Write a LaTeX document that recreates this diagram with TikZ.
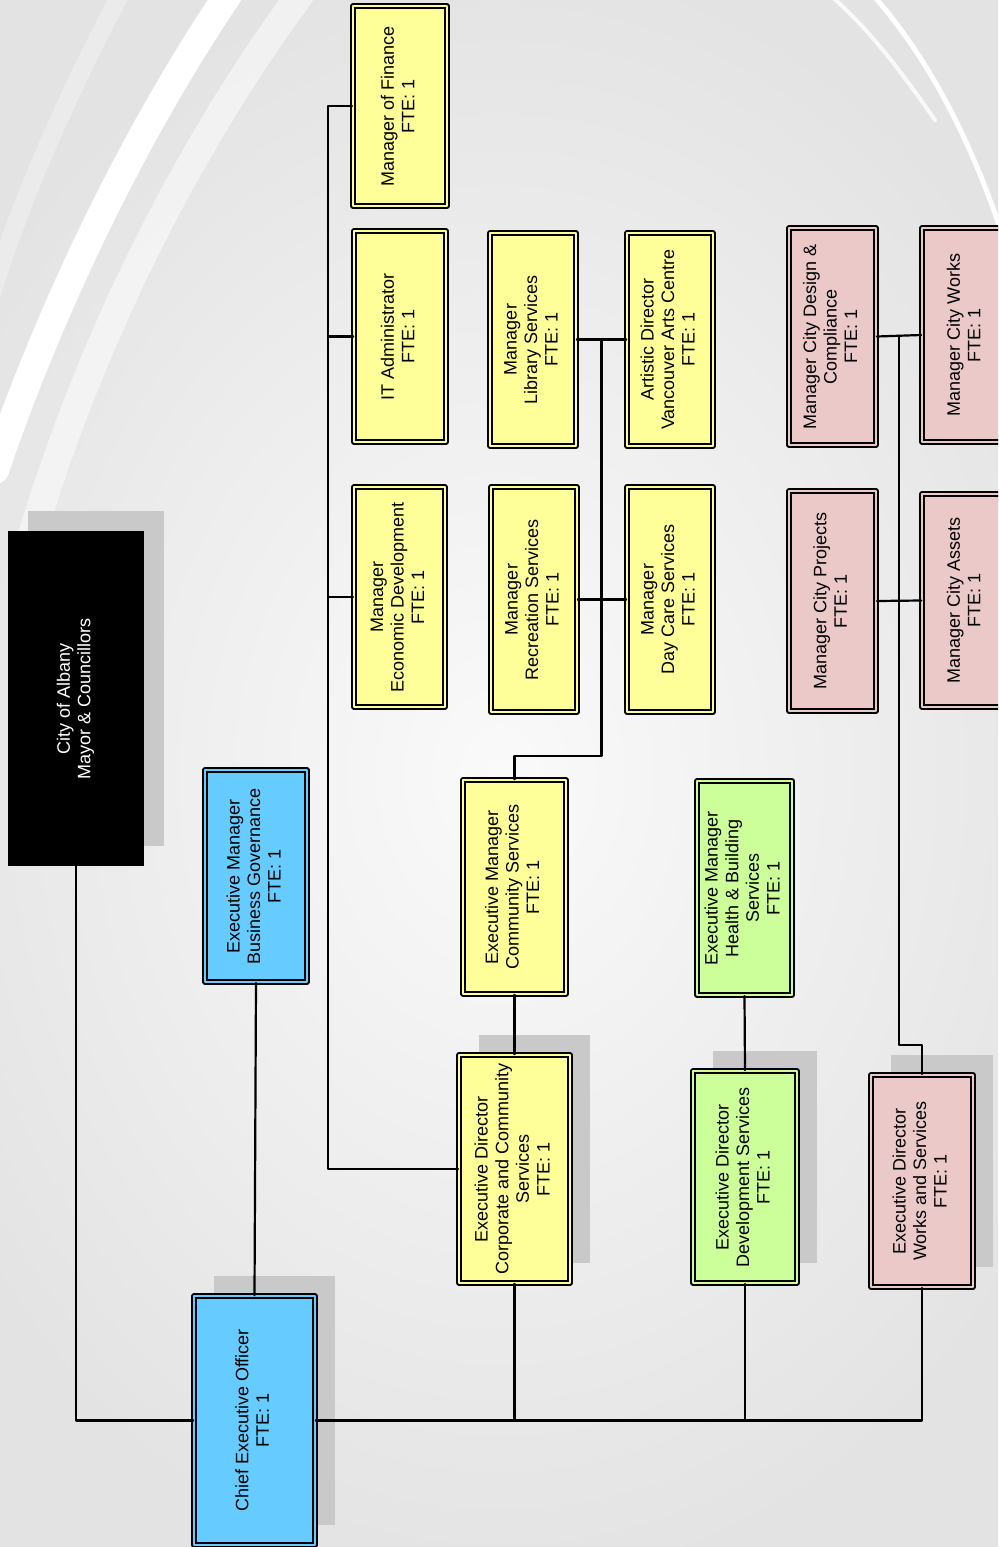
\documentclass[tikz,border=0pt]{standalone}
\usepackage{fontspec}
\setmainfont{Liberation Sans}
\usepackage{tikz}
\usetikzlibrary{calc}
\usetikzlibrary{shadows}
\definecolor{wwccff}{rgb}{0.4,0.8,1.}
\definecolor{ffffww}{rgb}{1.,1.,0.6}
\definecolor{ccffww}{rgb}{0.8,1.,0.6}
\definecolor{eecccc}{rgb}{0.92,0.79,0.79}
\definecolor{shadgray}{rgb}{0.79,0.79,0.79}
\newcommand{\rlab}[1]{\rotatebox{90}{\begin{tabular}{@{}c@{}}#1\end{tabular}}}
\tikzstyle{every node}=[font=\fontsize{9}{10.3}\selectfont]
\tikzstyle{post}=[draw=black,line width=0.85pt,double distance=1.1pt,inner sep=0pt]
\tikzstyle{bpost}=[post,fill=wwccff,double=wwccff]
\tikzstyle{ypost}=[post,fill=ffffww,double=ffffww]
\tikzstyle{gpost}=[post,fill=ccffww,double=ccffww]
\tikzstyle{ppost}=[post,fill=eecccc,double=eecccc]
\tikzstyle{shad}=[drop shadow={shadow xshift=10pt,shadow yshift=10pt,fill=shadgray,opacity=1}]
\tikzstyle{wire}=[line width=1.1pt]

\begin{document}
\begin{tikzpicture}[line cap=round,line join=round,x=0.5pt,y=-0.5pt]
\useasboundingbox (0,0) rectangle (998,1547);
\clip (0,0) rectangle (998,1547);
% background
\shade[inner color=black!2,outer color=black!11] (-150,-50) rectangle (1150,1600);
\draw[white,line width=14pt] (228,-5) .. controls (150,110) and (60,280) .. (-5,470);
\draw[white,opacity=0.5,line width=14pt] (300,-5) .. controls (200,130) and (90,330) .. (25,560);
\draw[white,opacity=0.3,line width=9pt] (120,-5) .. controls (70,90) and (20,200) .. (-10,300);
\draw[white,opacity=0.8,line width=2pt] (830,-5) .. controls (870,30) and (900,70) .. (935,120);
\draw[white,line width=2.5pt] (873,-5) .. controls (930,60) and (970,140) .. (1000,228);

% posts
\node[fill=black,shad,minimum width=68pt,minimum height=167.5pt,text=white] (mayor) at (76,698.5) {\rlab{City of Albany\\Mayor \& Councillors}};
\node[bpost,shad,minimum width=60.5pt,minimum height=124.5pt] (ceo) at (254.5,1420.5) {\rlab{Chief Executive Officer\\FTE: 1}};
\node[bpost,minimum width=51pt,minimum height=106pt] (bgov) at (256,876) {\rlab{Executive Manager\\Business Governance\\FTE: 1}};

\node[ypost,shad,minimum width=55.5pt,minimum height=114pt] (corp) at (514.5,1169) {\rlab{Executive Director\\Corporate and Community\\Services\\FTE: 1}};
\node[ypost,minimum width=51.5pt,minimum height=107pt] (comm) at (514.5,887) {\rlab{Executive Manager\\Community Services\\FTE: 1}};
\node[ypost,minimum width=45.5pt,minimum height=110pt] (econ) at (399.5,597) {\rlab{Manager\\Economic Development\\FTE: 1}};
\node[ypost,minimum width=46pt,minimum height=105.5pt] (itadm) at (400,336.5) {\rlab{IT Administrator\\FTE: 1}};
\node[ypost,minimum width=47pt,minimum height=100pt] (fin) at (400,106) {\rlab{Manager of Finance\\FTE: 1}};
\node[ypost,minimum width=43pt,minimum height=112.5pt] (recr) at (534,599.5) {\rlab{Manager\\Recreation Services\\FTE: 1}};
\node[ypost,minimum width=43pt,minimum height=112.5pt] (dayc) at (670,599.5) {\rlab{Manager\\Day Care Services\\FTE: 1}};
\node[ypost,minimum width=43pt,minimum height=106.5pt] (libr) at (533,339.5) {\rlab{Manager\\Library Services\\FTE: 1}};
\node[ypost,minimum width=43pt,minimum height=106.5pt] (arts) at (670,339.5) {\rlab{Artistic Director\\Vancouver Arts Centre\\FTE: 1}};

\node[gpost,shad,minimum width=52pt,minimum height=106pt] (dev) at (745,1177) {\rlab{Executive Director\\Development Services\\FTE: 1}};
\node[gpost,minimum width=47.5pt,minimum height=107pt] (hbs) at (744.5,888) {\rlab{Executive Manager\\Health \& Building\\Services\\FTE: 1}};

\node[ppost,shad,minimum width=51pt,minimum height=106pt] (works) at (922,1181) {\rlab{Executive Director\\Works and Services\\FTE: 1}};
\node[ppost,minimum width=43.5pt,minimum height=110pt] (proj) at (832.5,601) {\rlab{Manager City Projects\\FTE: 1}};
\node[ppost,minimum width=44pt,minimum height=106.5pt] (assets) at (966,600.5) {\rlab{Manager City Assets\\FTE: 1}};
\node[ppost,minimum width=43.5pt,minimum height=108.5pt] (design) at (832.5,336.5) {\rlab{Manager City Design \&\\Compliance\\FTE: 1}};
\node[ppost,minimum width=44pt,minimum height=107pt] (cworks) at (966,335) {\rlab{Manager City Works\\FTE: 1}};

% connectors
\draw[wire] (mayor.south) |- (ceo.west);
\draw[wire] (ceo.east) -| (works.south);
\draw[wire] (corp.south) -- (corp.south |- ceo.east);
\draw[wire] (dev.south) -- (dev.south |- ceo.east);
\draw[wire] (bgov.south) -- (ceo.north);
\draw[wire] (comm.south) -- (corp.north);
\draw[wire] (hbs.south) -- (dev.north);

\draw[wire] (corp.west) -- ++(-130,0) coordinate (fbus) |- (fin.west);
\draw[wire] (econ.west) -- (econ.west -| fbus);
\draw[wire] (itadm.west) -- (itadm.west -| fbus);

\coordinate (cbus) at ($(libr.east)!0.5!(arts.west)$);
\draw[wire] (comm.north) -- ++(0,-23) -| (cbus);
\draw[wire] (libr.east) -- (arts.west);
\draw[wire] (recr.east) -- (dayc.west);

\coordinate (wbus) at ($(design.east)!0.5!(cworks.west)$);
\draw[wire] (works.north) -- ++(0,-29) -| (wbus);
\draw[wire] (design.east) -- (cworks.west);
\draw[wire] (proj.east) -- (assets.west);
\end{tikzpicture}
\end{document}
